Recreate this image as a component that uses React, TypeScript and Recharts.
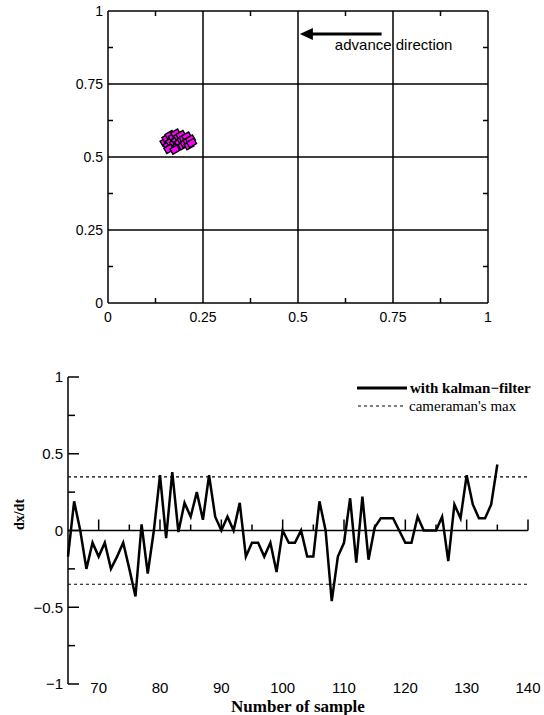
import {
  ComposedChart, Legend, Line, ReferenceDot, ReferenceLine,
  Scatter, ScatterChart, XAxis, YAxis,
} from 'recharts'

const SANS = '"Liberation Sans", Arial, sans-serif'
const SERIF = '"Liberation Serif", "Times New Roman", serif'

// top panel: tracked position in the frame (normalised coords)
const trackX = [0.150, 0.155, 0.158, 0.163, 0.165, 0.168, 0.172, 0.175, 0.178, 0.180, 0.183, 0.186, 0.188,
  0.192, 0.195, 0.197, 0.200, 0.203, 0.207, 0.210, 0.213, 0.217, 0.220, 0.160, 0.176]
const trackY = [0.552, 0.565, 0.540, 0.575, 0.553, 0.535, 0.568, 0.548, 0.580, 0.558, 0.538, 0.570, 0.550,
  0.575, 0.560, 0.540, 0.565, 0.548, 0.570, 0.555, 0.540, 0.560, 0.548, 0.528, 0.525]
const frameTicks = [0, 0.125, 0.25, 0.375, 0.5, 0.625, 0.75, 0.875, 1]
const frameMinor = [0.125, 0.375, 0.625, 0.875]
const frameGrid = [0.25, 0.5, 0.75, 1]
const arrowFrom = { x: 0.72, y: 0.921 }
const arrowTo = { x: 0.505, y: 0.921 }
const arrowNote = { x: 0.597, y: 0.884, text: 'advance direction' }

// bottom panel: dx/dt per sample
const firstSample = 65
const dxdt = [
  -0.17, 0.19, 0.0, -0.25, -0.08, -0.17, -0.08, -0.25, -0.17, -0.08, // 65-74
  -0.25, -0.43, 0.04, -0.28, 0.0, 0.36, -0.05, 0.38, -0.01, 0.18, // 75-84
  0.09, 0.25, 0.07, 0.36, 0.09, 0.0, 0.09, 0.0, 0.18, -0.17, // 85-94
  -0.08, -0.08, -0.17, -0.08, -0.27, 0.0, -0.08, -0.08, 0.0, -0.17, // 95-104
  -0.17, 0.19, 0.0, -0.46, -0.17, -0.08, 0.21, -0.21, 0.22, -0.19, // 105-114
  0.02, 0.08, 0.08, 0.08, 0.0, -0.08, -0.08, 0.09, 0.0, 0.0, // 115-124
  0.0, 0.09, -0.2, 0.17, 0.08, 0.36, 0.17, 0.08, 0.08, 0.17, // 125-134
  0.43, // 135
]
const sampleTicks = [70, 80, 90, 100, 110, 120, 130, 140]
const zeroLineTicks = [70, 75, 80, 85, 90, 95, 100, 105, 110, 115, 120, 125, 130, 135, 140]
const dxdtTicks = [-1, -0.75, -0.5, -0.25, 0, 0.25, 0.5, 0.75, 1]
const cameramanMax = 0.35
const seriesNames = ['with kalman\u2212filter', "cameraman's max"]

const track = trackX.map((x, i) => ({ x, y: trackY[i] }))
const topMarks = frameMinor.map((t) => ({ x: t, y: 1 }))
const rightMarks = frameMinor.map((t) => ({ x: 1, y: t }))
const rows = dxdt.map((v, i) => ({ sample: firstSample + i, dxdt: v }))
const zeroMarks = zeroLineTicks.map((t) => ({ sample: t, mark: 0 }))
const isMajor = (v: number, step: number) => Math.abs(v / step - Math.round(v / step)) < 1e-6
const fmt = (v: number) => String(v).replace('-', '\u2212')

const Blob = (p: any) => (
  <rect
    x={p.cx - 4} y={p.cy - 3} width={8} height={6}
    fill="#ff00ff" stroke="#000" strokeWidth={1.4}
    transform={`rotate(-30 ${p.cx} ${p.cy})`}
  />
)

const Arrow = (p: any) => (
  <g>
    <line x1={p.x1} y1={p.y1} x2={p.x2 + 10} y2={p.y2} stroke="#000" strokeWidth={3} />
    <polygon points={`${p.x2},${p.y2} ${p.x2 + 13},${p.y2 - 6} ${p.x2 + 13},${p.y2 + 6}`} fill="#000" />
  </g>
)

// inward tick marks on the frame and on the zero line
const TopMark = (p: any) => <line x1={p.cx} y1={p.cy} x2={p.cx} y2={p.cy + 5} stroke="#000" strokeWidth={1.5} />
const RightMark = (p: any) => <line x1={p.cx} y1={p.cy} x2={p.cx - 5} y2={p.cy} stroke="#000" strokeWidth={1.5} />
const ZeroMark = (p: any) => (
  <line
    x1={p.cx} y1={p.cy} x2={p.cx} y2={p.cy - (p.payload.sample % 10 === 0 ? 11 : 6)}
    stroke="#000" strokeWidth={1.5}
  />
)

// frame ticks: labels on quarters, short inward marks on eighths
const FrameXTick = (p: any) => {
  const v = p.payload.value
  if (!isMajor(v, 0.25)) return <line x1={p.x} x2={p.x} y1={p.y} y2={p.y - 5} stroke="#000" strokeWidth={1.5} />
  return <text x={p.x} y={p.y + 9} dy="0.71em" textAnchor="middle" fontSize={14} fontFamily={SANS} fill="#000">{fmt(v)}</text>
}
const FrameYTick = (p: any) => {
  const v = p.payload.value
  if (!isMajor(v, 0.25)) return <line x1={p.x} x2={p.x + 5} y1={p.y} y2={p.y} stroke="#000" strokeWidth={1.5} />
  return <text x={p.x - 5} y={p.y} dy="0.36em" textAnchor="end" fontSize={14} fontFamily={SANS} fill="#000">{fmt(v)}</text>
}
const DxTick = (p: any) => {
  const v = p.payload.value
  const major = isMajor(v, 0.5)
  return (
    <g>
      <line x1={p.x} x2={p.x + (major ? 11 : 7)} y1={p.y} y2={p.y} stroke="#000" strokeWidth={1.5} />
      {major && (
        <text x={p.x - 5} y={p.y} dy="0.36em" textAnchor="end" fontSize={15} fontFamily={SANS} fill="#000">{fmt(v)}</text>
      )}
    </g>
  )
}
const SampleTick = (p: any) => (
  <text x={p.x} y={p.y - 2} dy="0.71em" textAnchor="middle" fontSize={15} fontFamily={SANS} fill="#000">
    {p.payload.value}
  </text>
)

function KalmanLegend() {
  return (
    <div style={{ fontFamily: SERIF, fontSize: 15, color: '#000', lineHeight: '18px' }}>
      <div style={{ display: 'flex', alignItems: 'center', height: 18 }}>
        <svg width={52} height={18}><line x1={1} x2={51} y1={9} y2={9} stroke="#000" strokeWidth={3} /></svg>
        <span style={{ fontWeight: 'bold', marginLeft: 2 }}>{seriesNames[0]}</span>
      </div>
      <div style={{ display: 'flex', alignItems: 'center', height: 18 }}>
        <svg width={52} height={18}><line x1={2} x2={48} y1={9} y2={9} stroke="#000" strokeWidth={1.2} strokeDasharray="3 3" /></svg>
        <span style={{ marginLeft: 1 }}>{seriesNames[1]}</span>
      </div>
    </div>
  )
}

export default function App() {
  const frameLine = { stroke: '#000', strokeWidth: 1.5 }
  return (
    <div style={{ position: 'absolute', left: 0, top: 0, width: 544, height: 715, background: '#fff' }}>
      <div style={{ position: 'absolute', left: 0, top: 0 }}>
        <ScatterChart width={544} height={330} margin={{ top: 11, right: 56, bottom: 0, left: 68 }}>
          <XAxis
            dataKey="x" type="number" domain={[0, 1]} ticks={frameTicks} interval={0}
            height={27} tickSize={0} tickMargin={0} tickLine={false}
            axisLine={frameLine} tick={<FrameXTick />}
          />
          <YAxis
            dataKey="y" type="number" domain={[0, 1]} ticks={frameTicks} interval={0}
            width={40} tickSize={0} tickMargin={0} tickLine={false}
            axisLine={frameLine} tick={<FrameYTick />}
          />
          {frameGrid.map((g) => (
            <ReferenceLine key={'v' + g} x={g} stroke="#000" strokeWidth={1.5} ifOverflow="visible" />
          ))}
          {frameGrid.map((g) => (
            <ReferenceLine key={'h' + g} y={g} stroke="#000" strokeWidth={1.5} ifOverflow="visible" />
          ))}
          <ReferenceLine segment={[arrowFrom, arrowTo]} ifOverflow="visible" shape={Arrow} />
          <ReferenceDot
            x={arrowNote.x} y={arrowNote.y} r={0} ifOverflow="visible"
            shape={(p: any) => (
              <text x={p.cx} y={p.cy} dy="0.36em" fontSize={15} fontFamily={SANS} fill="#000">{arrowNote.text}</text>
            )}
          />
          <Scatter data={topMarks} shape={TopMark} legendType="none" isAnimationActive={false} />
          <Scatter data={rightMarks} shape={RightMark} legendType="none" isAnimationActive={false} />
          <Scatter data={track} shape={Blob} isAnimationActive={false} />
        </ScatterChart>
      </div>

      <div style={{ position: 'absolute', left: 0, top: 340 }}>
        <ComposedChart width={544} height={375} data={rows} margin={{ top: 37, right: 16, bottom: 0, left: 28 }}>
          <XAxis
            dataKey="sample" type="number" domain={[65, 140]} ticks={sampleTicks} interval={0}
            height={31} tickSize={0} tickMargin={0} tickLine={false} axisLine={false}
            tick={<SampleTick />}
            label={{
              content: (p: any) => (
                <text
                  x={p.viewBox.x + p.viewBox.width / 2} y={p.viewBox.y + 28} textAnchor="middle"
                  fontSize={17} fontWeight="bold" fontFamily={SERIF} fill="#000"
                >Number of sample</text>
              ),
            }}
          />
          <YAxis
            type="number" domain={[-1, 1]} ticks={dxdtTicks} interval={0}
            width={40} tickSize={0} tickMargin={0} tickLine={false}
            axisLine={frameLine} tick={<DxTick />}
            label={{
              content: (p: any) => {
                const cx = 19
                const cy = p.viewBox.y + p.viewBox.height / 2 - 16
                return (
                  <text
                    x={cx} y={cy} transform={`rotate(-90 ${cx} ${cy})`} textAnchor="middle" dy="0.35em"
                    fontSize={14} fontWeight="bold" fontFamily={SERIF} fill="#000"
                  >dx/dt</text>
                )
              },
            }}
          />
          <ReferenceLine y={0} stroke="#000" strokeWidth={1.5} />
          <ReferenceLine y={cameramanMax} stroke="#000" strokeWidth={1.2} strokeDasharray="3 3" />
          <ReferenceLine y={-cameramanMax} stroke="#000" strokeWidth={1.2} strokeDasharray="3 3" />
          <Scatter data={zeroMarks} dataKey="mark" shape={ZeroMark} legendType="none" isAnimationActive={false} />
          <Line
            type="linear" dataKey="dxdt" stroke="#000" strokeWidth={2.5}
            dot={false} isAnimationActive={false}
          />
          <Legend
            layout="vertical" align="center" verticalAlign="middle"
            wrapperStyle={{ top: 39, left: 356, width: 185 }}
            content={() => <KalmanLegend />}
          />
        </ComposedChart>
      </div>
    </div>
  )
}
